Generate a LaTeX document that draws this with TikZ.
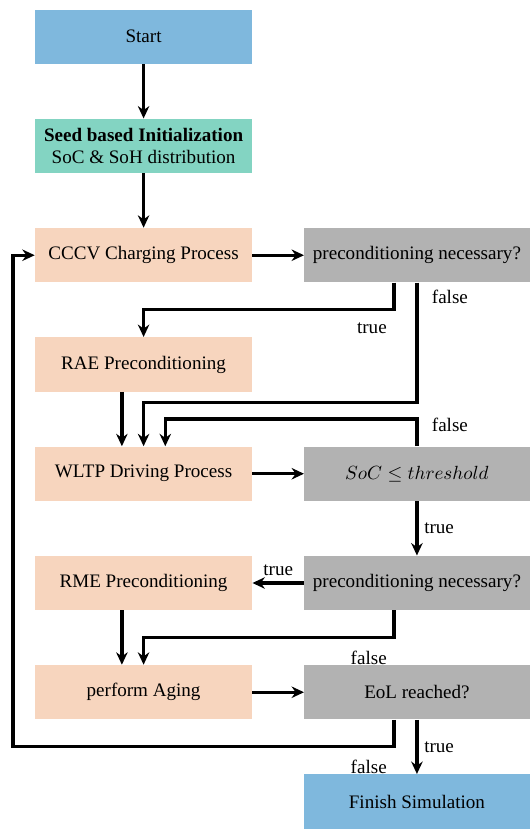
\documentclass[tikz,border=0pt]{standalone}
\usepackage{fontspec}
\setmainfont{Liberation Serif}
\usetikzlibrary{arrows.meta, positioning, calc}
\definecolor{SkyBlue}{HTML}{7FB8DD}
\definecolor{SeedTeal}{HTML}{83D4C2}
\definecolor{Peach}{HTML}{F7D5BE}
\definecolor{CondGray}{HTML}{B2B2B2}

\begin{document}
\begin{tikzpicture}[
      node distance=1cm and 0.95cm,
      proc/.style={fill=Peach, minimum width=4cm, minimum height=1cm, align=center},
      term/.style={proc, fill=SkyBlue},
      seedbox/.style={proc, fill=SeedTeal, inner ysep=2pt},
      cond/.style={fill=CondGray, minimum width=4.15cm, minimum height=1cm, align=center},
      flow/.style={-{Stealth[length=6.5pt,width=6pt]}, line width=1.7pt},
      lbl/.style={inner sep=3pt},
      cornerlbl/.style={lbl, below left, yshift=-3pt}
    ]

    \node[term]                    (start)  {Start};
    \node[seedbox, below=of start] (seed)   {\textbf{Seed based Initialization}\\SoC \& SoH distribution};
    \node[proc, below=of seed]     (charge) {CCCV Charging Process};
    \node[cond, right=of charge]   (precA)  {preconditioning necessary?};
    \node[proc, below=of charge]   (rae)    {RAE Preconditioning};
    \node[proc, below=of rae]      (drive)  {WLTP Driving Process};
    \node[cond, right=of drive]    (soc)    {$SoC \leq threshold$};
    \node[proc, below=of drive]    (rme)    {RME Preconditioning};
    \node[cond, right=of rme]      (precB)  {preconditioning necessary?};
    \node[proc, below=of rme]      (aging)  {perform Aging};
    \node[cond, right=of aging]    (eol)    {EoL reached?};
    \node[term, minimum width=4.15cm, below=of eol] (finish) {Finish Simulation};

    % helper points for the bends
    \coordinate (midCR) at ($(charge.south)!.5!(rae.north)$);
    \coordinate (midRD) at ($(rae.south)!.5!(drive.north)$);
    \coordinate (lowR)  at ($(rae.south)+(0,-0.2cm)$);
    \coordinate (midRA) at ($(rme.south)!.5!(aging.north)$);
    \coordinate (midEF) at ($(eol.south)!.5!(finish.north)$);
    \coordinate (loop)  at ($(charge.west)+(-0.4cm,0)$);

    \draw[flow] (start) -- (seed);
    \draw[flow] (seed) -- (charge);
    \draw[flow] (charge) -- (precA);
    \draw[flow] ([xshift=-12pt]precA.south) |- node[cornerlbl] {true} (midCR) -- (rae.north);
    \draw[flow] (precA.south) -- node[lbl, right, pos=0.12, xshift=4pt] {false} (precA.south |- lowR) -| (drive.north);
    \draw[flow] ([xshift=-0.4cm]rae.south) -- ([xshift=-0.4cm]drive.north);
    \draw[flow] (soc.north) -- node[lbl, right, pos=0.8, xshift=4pt] {false} (soc.north |- midRD) -| ([xshift=0.4cm]drive.north);
    \draw[flow] (drive) -- (soc);
    \draw[flow] (soc) -- node[lbl, right] {true} (precB);
    \draw[flow] (precB) -- node[lbl, above] {true} (rme);
    \draw[flow] ([xshift=-12pt]precB.south) |- node[cornerlbl] {false} (midRA) -- (aging.north);
    \draw[flow] ([xshift=-0.4cm]rme.south) -- ([xshift=-0.4cm]aging.north);
    \draw[flow] (aging) -- (eol);
    \draw[flow] (eol) -- node[lbl, right] {true} (finish);
    \draw[flow] ([xshift=-12pt]eol.south) |- node[cornerlbl] {false} (loop |- midEF) -- (loop) -- (charge.west);

    \useasboundingbox ($(start.north -| loop)+(-0.24cm,0.17cm)$) rectangle (finish.south east);

  \end{tikzpicture}
\end{document}
